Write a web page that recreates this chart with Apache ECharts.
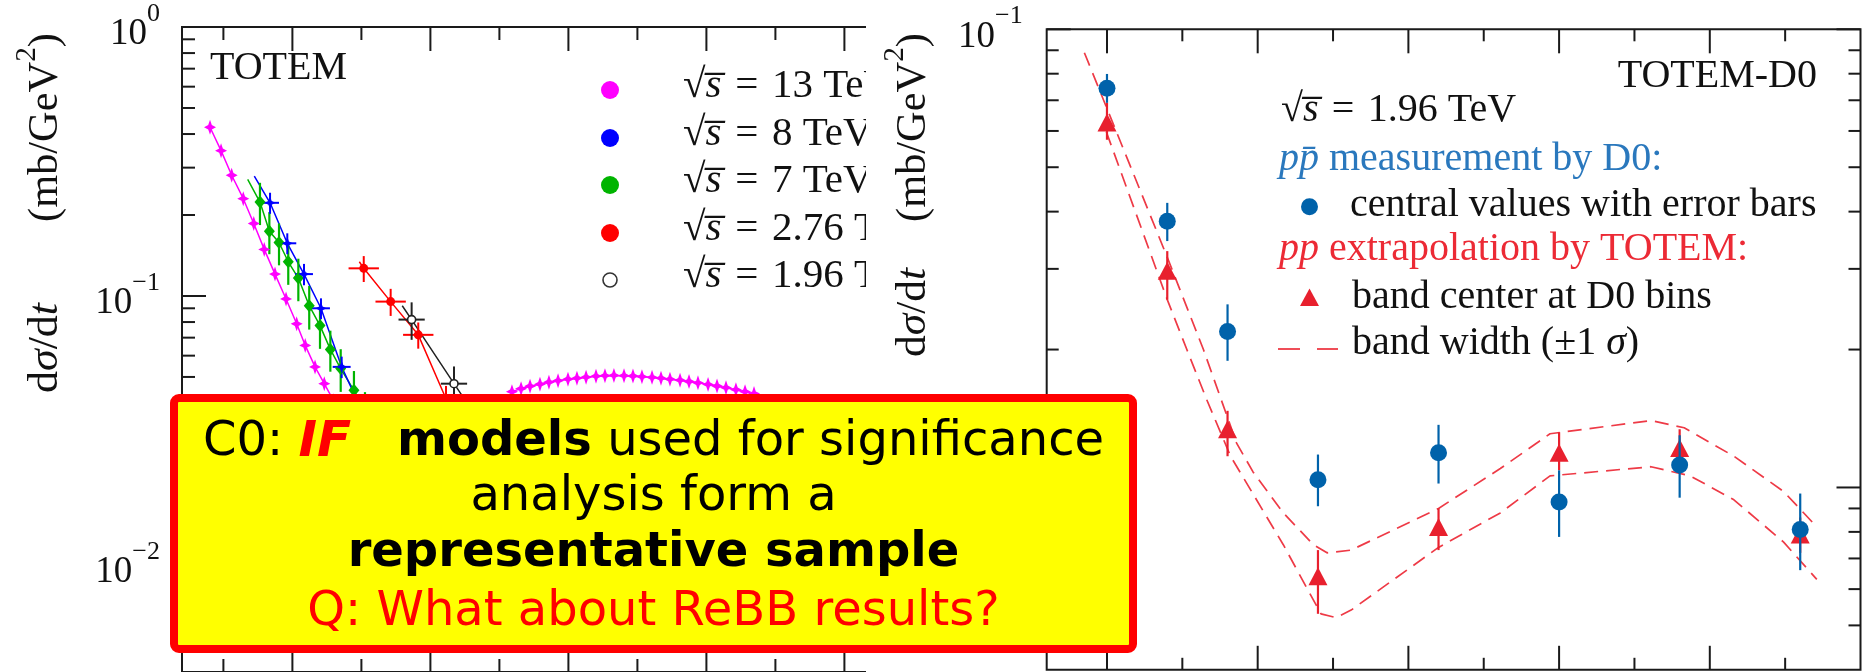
<!DOCTYPE html>
<html>
<head>
<meta charset="utf-8">
<script src="https://cdn.jsdelivr.net/npm/echarts@6/dist/echarts.min.js"></script>
<style>
  html, body { margin: 0; padding: 0; background: #ffffff; }
  #chart { width: 1866px; height: 672px; }
</style>
</head>
<body>
<div id="chart"></div>
<script>
const SERIF = "'Liberation Serif', 'Times New Roman', serif";
const SANS = "'DejaVu Sans', Verdana, sans-serif";

// ---------- Left panel: TOTEM pp elastic dσ/dt versus |t| (GeV^2) ----------
// √s = 13 TeV, falling edge before the dip
const t13 = [0.3403, 0.3483, 0.3560, 0.3644, 0.3720, 0.3796, 0.3874, 0.3954, 0.4031, 0.4093, 0.4164, 0.4231, 0.4298];
const v13 = [0.424, 0.347, 0.281, 0.230, 0.186, 0.149, 0.1206, 0.0975, 0.0788, 0.0655, 0.0545, 0.0472, 0.0408];
// √s = 13 TeV, second maximum after the dip
const t13Bump = [0.5591, 0.5657, 0.5722, 0.5794, 0.5859, 0.5925, 0.5997, 0.6062, 0.6128, 0.6200, 0.6265, 0.6330, 0.6403, 0.6468,
                 0.6533, 0.6606, 0.6671, 0.6736, 0.6809, 0.6874, 0.6939, 0.7012, 0.7077, 0.7142, 0.7214, 0.7280, 0.7345];
const v13Bump = [0.04409, 0.04524, 0.04621, 0.04700, 0.04781, 0.04843, 0.04905, 0.04947, 0.04990, 0.05033, 0.05054, 0.05067, 0.05054, 0.05041,
                 0.05012, 0.04982, 0.04947, 0.04905, 0.04863, 0.04809, 0.04753, 0.04692, 0.04629, 0.04562, 0.04485, 0.04409, 0.04335];
// √s = 8 TeV
const t8 = [0.3838, 0.3963, 0.4084, 0.4207, 0.4357, 0.4490];
const v8 = [0.222, 0.157, 0.1206, 0.090, 0.0545, 0.0388];
const e8 = [0.020, 0.014, 0.011, 0.008, 0.005, 0.0035];
const te8 = 0.0065;
const fitStart8 = [0.3724, 0.279];
// √s = 7 TeV
const t7 = [0.3765, 0.3833, 0.3903, 0.3970, 0.4043, 0.4122, 0.4200, 0.4275, 0.4350, 0.4446, 0.4526];
const v7 = [0.2235, 0.174, 0.158, 0.134, 0.1166, 0.092, 0.0776, 0.0633, 0.0537, 0.0446, 0.0372];
const e7 = [0.040, 0.031, 0.028, 0.024, 0.021, 0.017, 0.014, 0.011, 0.0097, 0.008, 0.0067];
const fitStart7 = [0.3676, 0.2713];
// √s = 2.76 TeV
const t276 = [0.4517, 0.4712, 0.4912, 0.5113];
const v276 = [0.1267, 0.0953, 0.0717, 0.0415];
const e276 = [0.014, 0.011, 0.008, 0.0048];
const te276 = 0.011;
const fitStart276 = [0.4485, 0.134];
// √s = 1.96 TeV (extrapolated)
const t196 = [0.4864, 0.5171];
const v196 = [0.0817, 0.0472];
const e196 = [0.013, 0.0075];
const te196 = 0.0095;
const fitStart196 = [0.4796, 0.092];
const fitEnd196 = [0.5450, 0.0290];

// ---------- Right panel: TOTEM-D0 comparison at √s = 1.96 TeV ----------
const tD0 = [0.50, 0.54, 0.58, 0.64, 0.72, 0.80, 0.88, 0.96];
const d0Val  = [0.0744, 0.0381, 0.0219, 0.0104, 0.0119, 0.0093, 0.0112, 0.0081];
const d0Low  = [0.0691, 0.0345, 0.0189, 0.0091, 0.0102, 0.0078, 0.0095, 0.0066];
const d0High = [0.0799, 0.0418, 0.0251, 0.0118, 0.0137, 0.0109, 0.0130, 0.0097];
const totemVal  = [0.0626, 0.0297, 0.0134, 0.0064, 0.0082, 0.0119, 0.0122, 0.0079];
const totemLow  = [0.0574, 0.0257, 0.0117, 0.0053, 0.0073, 0.0109, 0.0110, 0.0072];
const totemHigh = [0.0691, 0.0328, 0.0147, 0.0073, 0.0090, 0.0132, 0.0134, 0.0086];
const bandUpT = [0.485, 0.540, 0.564, 0.586, 0.597, 0.617, 0.637, 0.646, 0.662, 0.720, 0.761, 0.794, 0.861, 0.883, 0.916, 0.949, 0.971];
const bandUpV = [0.0889, 0.0318, 0.0200, 0.0125, 0.0108, 0.0088, 0.0075, 0.0072, 0.0073, 0.0090, 0.0110, 0.0131, 0.0140, 0.0135, 0.0117, 0.0098, 0.0082];
const bandLoT = [0.4996, 0.540, 0.553, 0.566, 0.582, 0.617, 0.633, 0.642, 0.652, 0.662, 0.720, 0.761, 0.794, 0.861, 0.887, 0.916, 0.949, 0.971];
const bandLoV = [0.0597, 0.0257, 0.0200, 0.0156, 0.0117, 0.0075, 0.0060, 0.0053, 0.0052, 0.0054, 0.0074, 0.0088, 0.0106, 0.0111, 0.0106, 0.0094, 0.0076, 0.0063];

// ---------- Tick marks and labels ----------
const leftTickXMajor = [0.4, 0.5, 0.6, 0.7, 0.8, 0.9];
const leftTickXMinor = [0.35, 0.45, 0.55, 0.65, 0.75, 0.85, 0.95];
const leftTickYMajor = [1, 0.1, 0.01];
const leftTickYMinor = [0.9, 0.8, 0.7, 0.6, 0.5, 0.4, 0.3, 0.2, 0.09, 0.08, 0.07, 0.06, 0.05, 0.04, 0.03, 0.02, 0.009, 0.008, 0.007, 0.006, 0.005];
const leftYLabels = [1, 0.1, 0.01];
const rightTickXMajor = [0.5, 0.6, 0.7, 0.8, 0.9];
const rightTickXMinor = [0.55, 0.65, 0.75, 0.85, 0.95];
const rightTickYMajor = [0.1, 0.01];
const rightTickYMinor = [0.09, 0.08, 0.07, 0.06, 0.05, 0.04, 0.03, 0.02, 0.009, 0.008, 0.007, 0.006, 0.005];
const rightYLabels = [0.1, 0.01];

const legendLeft = ['13 TeV', '8 TeV', '7 TeV', '2.76 TeV', '1.96 TeV'];
const C13 = '#ff00ff', C8 = '#0000ff', C7 = '#00b400', C276 = '#ff0000', C196 = '#222222';
const D0BLUE = '#0062aa', TRED = '#e8202e', BANDRED = '#ee3a46';

const pairs = (xs, ys) => xs.map((x, i) => [x, ys[i]]);

// inward ticks on all four sides of a grid
function tickSeries(gi, xMaj, xMin, yMaj, yMin, yRef, xRef, majLen, minLen, z) {
  const data = [];
  xMaj.forEach(v => data.push([v, yRef, 0, 1]));
  xMin.forEach(v => data.push([v, yRef, 0, 0]));
  yMaj.forEach(v => data.push([xRef, v, 1, 1]));
  yMin.forEach(v => data.push([xRef, v, 1, 0]));
  return {
    type: 'custom', xAxisIndex: gi, yAxisIndex: gi, z: z, silent: true, clip: false,
    data: data, encode: { x: 0, y: 1 },
    renderItem: function (params, api) {
      const cs = params.coordSys;
      const p = api.coord([api.value(0), api.value(1)]);
      const len = api.value(3) ? majLen : minLen;
      const st = { stroke: '#1a1a1a', lineWidth: 2 };
      if (api.value(2) === 0) {
        return { type: 'group', children: [
          { type: 'line', shape: { x1: p[0], y1: cs.y, x2: p[0], y2: cs.y + len }, style: st },
          { type: 'line', shape: { x1: p[0], y1: cs.y + cs.height, x2: p[0], y2: cs.y + cs.height - len }, style: st }
        ]};
      }
      return { type: 'group', children: [
        { type: 'line', shape: { x1: cs.x, y1: p[1], x2: cs.x + len, y2: p[1] }, style: st },
        { type: 'line', shape: { x1: cs.x + cs.width, y1: p[1], x2: cs.x + cs.width - len, y2: p[1] }, style: st }
      ]};
    }
  };
}

// error bars: items [x, y, yLow, yHigh, xLow, xHigh]
function errSeries(gi, items, color, width, z) {
  return {
    type: 'custom', xAxisIndex: gi, yAxisIndex: gi, z: z, silent: true,
    data: items, encode: { x: 0, y: 1 },
    renderItem: function (params, api) {
      const x = api.value(0), y = api.value(1);
      const lo = api.coord([x, api.value(2)]), hi = api.coord([x, api.value(3)]);
      const ch = [{ type: 'line', shape: { x1: lo[0], y1: lo[1], x2: hi[0], y2: hi[1] }, style: { stroke: color, lineWidth: width } }];
      if (api.value(5) > api.value(4)) {
        const l = api.coord([api.value(4), y]), r = api.coord([api.value(5), y]);
        ch.push({ type: 'line', shape: { x1: l[0], y1: l[1], x2: r[0], y2: r[1] }, style: { stroke: color, lineWidth: width } });
      }
      return { type: 'group', children: ch };
    }
  };
}
const symErr = (ts, vs, es, te) => ts.map((t, i) => [t, vs[i], vs[i] - es[i], vs[i] + es[i], t - te, t + te]);

function lineSeries(data, color, width, z) {
  return {
    type: 'line', xAxisIndex: 0, yAxisIndex: 0, data: data, symbol: 'none', z: z, silent: true,
    lineStyle: { color: color, width: width }
  };
}
function markSeries(gi, data, color, symbol, size, z, hollow) {
  return {
    type: 'scatter', xAxisIndex: gi, yAxisIndex: gi, data: data, symbol: symbol, symbolSize: size, z: z, silent: true,
    itemStyle: hollow ? { color: '#ffffff', borderColor: color, borderWidth: 1.6, opacity: 1 } : { color: color, opacity: 1 }
  };
}

const STAR = 'path://M0,-9 L1.8,-2.6 L6,0 L1.8,2.6 L0,9 L-1.8,2.6 L-6,0 L-1.8,-2.6 Z';

const labelRich = {
  b: { fontFamily: SERIF, fontSize: 37, color: '#111', lineHeight: 52, verticalAlign: 'bottom' },
  s: { fontFamily: SERIF, fontSize: 26, color: '#111', verticalAlign: 'top' }
};
const powLabel = v => {
  const e = Math.round(Math.log10(v));
  return '{b|10}{s|' + (e === 0 ? '0' : '\u2212' + (-e)) + '}';
};

// ---------- Text helpers ----------
const serifRich = (size, color) => ({
  r: { fontFamily: SERIF, fontSize: size, fill: color, verticalAlign: 'bottom' },
  i: { fontFamily: SERIF, fontSize: size, fill: color, fontStyle: 'italic', verticalAlign: 'bottom' }
});
function text(x, y, str, rich, align, z, extra) {
  return Object.assign({
    type: 'text', x: x, y: y, z: z, silent: true,
    style: { text: str, rich: rich, align: align, textAlign: align, verticalAlign: 'middle', textVerticalAlign: 'middle' }
  }, extra || {});
}

// axis titles: two rotated pieces, each stretched along its reading direction to a set length
const TS = 42, TSUP = 29;
const mctx = document.createElement('canvas').getContext('2d');
function tw(str, size, italic) {
  mctx.font = (italic ? 'italic ' : '') + size + 'px ' + SERIF;
  return mctx.measureText(str).width;
}
const wDsdt = tw('d', TS) + tw('\u03c3', TS, true) + tw('/d', TS) + tw('t', TS, true);
const wUnit = tw('(mb/GeV', TS) + tw('2', TSUP) + tw(')', TS);
const yTitleRich = {
  u: { fontFamily: SERIF, fontSize: TS, fill: '#111', lineHeight: 54, verticalAlign: 'bottom' },
  i: { fontFamily: SERIF, fontSize: TS, fill: '#111', fontStyle: 'italic', lineHeight: 54, verticalAlign: 'bottom' },
  s: { fontFamily: SERIF, fontSize: TSUP, fill: '#111', verticalAlign: 'top' }
};
function yTitle(x, unitTop, unitBottom, dTop, dBottom, z) {
  return [
    text(x, (unitTop + unitBottom) / 2, '{u|(mb/GeV}{s|2}{u|)}', yTitleRich, 'center', z,
         { rotation: Math.PI / 2, scaleX: (unitBottom - unitTop) / wUnit }),
    text(x, (dTop + dBottom) / 2, '{u|d}{i|\u03c3}{u|/d}{i|t}', yTitleRich, 'center', z,
         { rotation: Math.PI / 2, scaleX: (dBottom - dTop) / wDsdt })
  ];
}

const SP = '\u2004';
const sqrtS = '{r|\u221a}{i|s\u0305}{r|' + SP + '=' + SP;

const graphics = [];
// left panel texts (covered on the right by the second panel)
graphics.push(...yTitle(40, 33, 222, 303, 393, 1));
graphics.push(text(210, 68, '{r|TOTEM}', serifRich(40, '#111'), 'left', 1));
const legColors = [C13, C8, C7, C276, C196];
const legDotY = [90, 138, 185, 233, 280];
legendLeft.forEach((lab, i) => {
  graphics.push(i === 4
    ? { type: 'circle', z: 1, silent: true, shape: { cx: 610, cy: legDotY[i], r: 7 }, style: { fill: '#fff', stroke: '#333', lineWidth: 1.6 } }
    : { type: 'circle', z: 1, silent: true, shape: { cx: 610, cy: legDotY[i], r: 9 }, style: { fill: legColors[i] } });
  graphics.push(text(683, legDotY[i] - 4, sqrtS + lab + '}', serifRich(41, '#111'), 'left', 1));
});
// second panel background
graphics.push({ type: 'rect', z: 10, silent: true, shape: { x: 866, y: 0, width: 1000, height: 672 }, style: { fill: '#ffffff' } });
// right panel texts and legend
graphics.push(...yTitle(908, 33, 222, 268, 357, 40));
graphics.push(text(1817, 76, '{r|TOTEM-D0}', serifRich(40, '#111'), 'right', 40));
graphics.push(text(1281, 110, sqrtS + '1.96 TeV}', serifRich(40, '#111'), 'left', 40));
graphics.push(text(1279, 159, '{i|pp\u0304}{r| measurement by D0:}', serifRich(40, '#2a78bd'), 'left', 40));
graphics.push({ type: 'circle', z: 40, silent: true, shape: { cx: 1309.5, cy: 206.7, r: 8.5 }, style: { fill: D0BLUE } });
graphics.push(text(1350, 205, '{r|central values with error bars}', serifRich(40, '#111'), 'left', 40));
graphics.push(text(1279, 249, '{i|pp}{r| extrapolation by TOTEM:}', serifRich(40, '#ec2a35'), 'left', 40));
graphics.push({ type: 'polygon', z: 40, silent: true, shape: { points: [[1309.5, 288.5], [1300, 306], [1319, 306]] }, style: { fill: TRED } });
graphics.push(text(1352, 297, '{r|band center at D0 bins}', serifRich(40, '#111'), 'left', 40));
graphics.push({ type: 'line', z: 40, silent: true, shape: { x1: 1278, y1: 349, x2: 1300, y2: 349 }, style: { stroke: BANDRED, lineWidth: 1.8 } });
graphics.push({ type: 'line', z: 40, silent: true, shape: { x1: 1317, y1: 349, x2: 1338, y2: 349 }, style: { stroke: BANDRED, lineWidth: 1.8 } });
graphics.push(text(1352, 343, '{r|band width (\u00b11 }{i|\u03c3}{r|)}', serifRich(40, '#111'), 'left', 40));

// annotation box
const boxRich = {
  n: { fontFamily: SANS, fontSize: 48, fill: '#000000' },
  b: { fontFamily: SANS, fontSize: 48, fill: '#000000', fontWeight: 'bold' },
  f: { fontFamily: SANS, fontSize: 50, fill: '#ff0000', fontWeight: 'bold', fontStyle: 'italic' },
  q: { fontFamily: SANS, fontSize: 48, fill: '#ff0000' }
};
graphics.push({ type: 'rect', z: 100, silent: true, shape: { x: 174, y: 398, width: 959, height: 251, r: 5 },
                style: { fill: '#ffff00', stroke: '#ff0000', lineWidth: 8 } });
graphics.push(text(653.5, 443, '{n|C0: }{f|IF}{n|   }{b|models}{n| used for significance}', boxRich, 'center', 101));
graphics.push(text(653.5, 498, '{n|analysis form a}', boxRich, 'center', 101));
graphics.push(text(653.5, 554, '{b|representative sample}', boxRich, 'center', 101));
graphics.push(text(653.5, 613, '{q|Q: What about ReBB results?}', boxRich, 'center', 101));

const option = {
  animation: false,
  backgroundColor: '#ffffff',
  grid: [
    { left: 182, top: 27, width: 938.4, height: 647.5, show: true, borderColor: '#1a1a1a', borderWidth: 2, backgroundColor: 'transparent', z: 2 },
    { left: 1046.7, top: 29.3, width: 813.8, height: 640.5, show: true, borderColor: '#1a1a1a', borderWidth: 2, backgroundColor: 'transparent', z: 30 }
  ],
  xAxis: [
    { type: 'value', gridIndex: 0, min: 0.32, max: 1.0, axisLine: { show: false }, axisTick: { show: false }, axisLabel: { show: false }, splitLine: { show: false } },
    { type: 'value', gridIndex: 1, min: 0.46, max: 1.0, z: 30, axisLine: { show: false }, axisTick: { show: false }, axisLabel: { show: false }, splitLine: { show: false } }
  ],
  yAxis: [
    { type: 'log', gridIndex: 0, min: 0.004, max: 1, logBase: 10, axisLine: { show: false }, axisTick: { show: false }, splitLine: { show: false },
      axisLabel: { customValues: leftYLabels, margin: 22, formatter: powLabel, rich: labelRich } },
    { type: 'log', gridIndex: 1, min: 0.004, max: 0.1, logBase: 10, z: 30, axisLine: { show: false }, axisTick: { show: false }, splitLine: { show: false },
      axisLabel: { customValues: rightYLabels, margin: 24, formatter: powLabel, rich: labelRich } }
  ],
  graphic: { elements: graphics },
  series: [
    // left panel
    tickSeries(0, leftTickXMajor, leftTickXMinor, leftTickYMajor, leftTickYMinor, 1, 0.32, 24, 13, 3),
    lineSeries(pairs(t13, v13), C13, 1.5, 4),
    lineSeries(pairs(t13Bump, v13Bump), C13, 1.5, 4),
    markSeries(0, pairs(t13, v13), C13, STAR, [12, 15], 5),
    markSeries(0, pairs(t13Bump, v13Bump), C13, STAR, [12, 15], 5),
    lineSeries([fitStart7].concat(pairs(t7, v7)), C7, 1.5, 4),
    errSeries(0, symErr(t7, v7, e7, 0), C7, 2.2, 5),
    markSeries(0, pairs(t7, v7), C7, 'diamond', [11, 13], 6),
    lineSeries([fitStart8].concat(pairs(t8, v8)), C8, 1.5, 4),
    errSeries(0, symErr(t8, v8, e8, te8), C8, 2, 5),
    markSeries(0, pairs(t8, v8), C8, STAR, [11, 13], 6),
    lineSeries([fitStart276].concat(pairs(t276, v276)), C276, 1.5, 4),
    errSeries(0, symErr(t276, v276, e276, te276), C276, 2, 5),
    markSeries(0, pairs(t276, v276), C276, 'circle', 9, 6),
    lineSeries([fitStart196].concat(pairs(t196, v196), [fitEnd196]), C196, 1.5, 4),
    errSeries(0, symErr(t196, v196, e196, te196), C196, 2, 5),
    markSeries(0, pairs(t196, v196), C196, 'circle', 8, 6, true),
    // right panel
    tickSeries(1, rightTickXMajor, rightTickXMinor, rightTickYMajor, rightTickYMinor, 0.1, 0.46, 24, 12, 31),
    { type: 'line', xAxisIndex: 1, yAxisIndex: 1, data: pairs(bandUpT, bandUpV), symbol: 'none', z: 32, silent: true,
      lineStyle: { color: BANDRED, width: 1.7, type: [14, 8] } },
    { type: 'line', xAxisIndex: 1, yAxisIndex: 1, data: pairs(bandLoT, bandLoV), symbol: 'none', z: 32, silent: true,
      lineStyle: { color: BANDRED, width: 1.7, type: [14, 8] } },
    errSeries(1, tD0.map((t, i) => [t, totemVal[i], totemLow[i], totemHigh[i], t, t]), TRED, 2.2, 33),
    markSeries(1, pairs(tD0, totemVal), TRED, 'triangle', [19, 18], 34),
    errSeries(1, tD0.map((t, i) => [t, d0Val[i], d0Low[i], d0High[i], t, t]), D0BLUE, 2.2, 35),
    markSeries(1, pairs(tD0, d0Val), D0BLUE, 'circle', 17, 36)
  ]
};

const chart = echarts.init(document.getElementById('chart'), null, { renderer: 'canvas', devicePixelRatio: 1 });
chart.setOption(option);
</script>
</body>
</html>
